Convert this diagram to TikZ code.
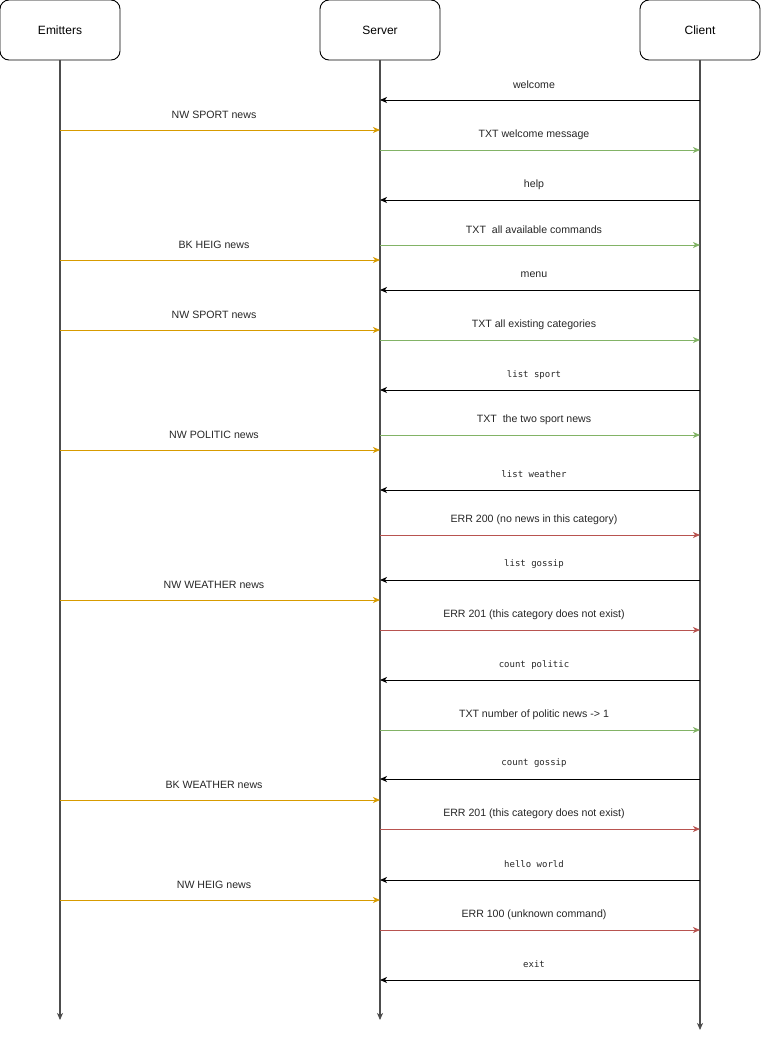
\documentclass[tikz,border=0pt]{standalone}
\usepackage{fontspec}
\setmainfont{Liberation Sans}
\newfontfamily\monofont{DejaVu Sans Mono}
\usetikzlibrary{arrows.meta,calc}
\definecolor{cOr}{HTML}{D79B00}
\definecolor{cGr}{HTML}{82B366}
\definecolor{cRd}{HTML}{B85450}
\definecolor{cGy}{HTML}{4D4D4D}
\tikzset{
  actor/.style={draw=black, line width=0.9pt, rounded corners=9pt, minimum width=120pt, minimum height=60pt, inner sep=0pt, font=\fontsize{12}{14}\selectfont},
  tip/.style={-{Stealth[length=7pt,width=6pt,inset=2pt]}},
  msgK/.style={tip, draw=black, line width=0.9pt},
  msgO/.style={tip, draw=cOr, line width=0.9pt},
  msgG/.style={tip, draw=cGr, line width=0.9pt},
  msgR/.style={tip, draw=cRd, line width=0.9pt},
  lbl/.style={font=\fontsize{10.6}{13}\selectfont, inner sep=0pt, text=black!85},
  mlbl/.style={font=\monofont\fontsize{9}{11}\selectfont, inner sep=0pt, text=black!85},
  lifeK/.style={-{Stealth[length=7pt,width=6pt,inset=2pt,fill=black]}, draw=cGy, line width=1.1pt},
}
\newcommand\msg[6]{\draw[#1] (#2.south |- 0,#4) -- (#3.south |- 0,#4);
  \node[#6] at ($(#2.south |- 0,#4)!0.5!(#3.south |- 0,#4) + (-6,-15.5)$) {#5};}
\begin{document}
\begin{tikzpicture}[x=1pt,y=-1pt]
\useasboundingbox (0,0) rectangle (761,1041);
\node[actor] (E) at (60,30) {Emitters};
\node[actor] (S) at (380,30) {Server};
\node[actor] (C) at (700,30) {Client};
\coordinate (Eend) at (60,1020);
\coordinate (Send) at (380,1020);
\coordinate (Cend) at (700,1030);
\draw[lifeK] (E.south) -- (Eend);
\draw[lifeK] (S.south) -- (Send);
\draw[lifeK] (C.south) -- (Cend);
\msg{msgK}{C}{S}{100}{welcome}{lbl}
\msg{msgO}{E}{S}{130}{NW SPORT news}{lbl}
\msg{msgG}{S}{C}{150}{TXT welcome message}{lbl}
\msg{msgK}{C}{S}{200}{help}{lbl}
\msg{msgG}{S}{C}{245}{TXT\ \ all available commands}{lbl}
\msg{msgO}{E}{S}{260}{BK HEIG news}{lbl}
\msg{msgK}{C}{S}{290}{menu}{lbl}
\msg{msgO}{E}{S}{330}{NW SPORT news}{lbl}
\msg{msgG}{S}{C}{340}{TXT all existing categories}{lbl}
\msg{msgK}{C}{S}{390}{list sport}{mlbl}
\msg{msgG}{S}{C}{435}{TXT\ \ the two sport news}{lbl}
\msg{msgO}{E}{S}{450}{NW POLITIC news}{lbl}
\msg{msgK}{C}{S}{490}{list weather}{mlbl}
\msg{msgR}{S}{C}{535}{ERR 200 (no news in this category)}{lbl}
\msg{msgK}{C}{S}{580}{list gossip}{mlbl}
\msg{msgO}{E}{S}{600}{NW WEATHER news}{lbl}
\msg{msgR}{S}{C}{630}{ERR 201 (this category does not exist)}{lbl}
\msg{msgK}{C}{S}{680}{count politic}{mlbl}
\msg{msgG}{S}{C}{730}{TXT number of politic news -> 1}{lbl}
\msg{msgK}{C}{S}{779}{count gossip}{mlbl}
\msg{msgO}{E}{S}{800}{BK WEATHER news}{lbl}
\msg{msgR}{S}{C}{829}{ERR 201 (this category does not exist)}{lbl}
\msg{msgK}{C}{S}{880}{hello world}{mlbl}
\msg{msgO}{E}{S}{900}{NW HEIG news}{lbl}
\msg{msgR}{S}{C}{930}{ERR 100 (unknown command)}{lbl}
\msg{msgK}{C}{S}{980}{exit}{mlbl}
\end{tikzpicture}
\end{document}
